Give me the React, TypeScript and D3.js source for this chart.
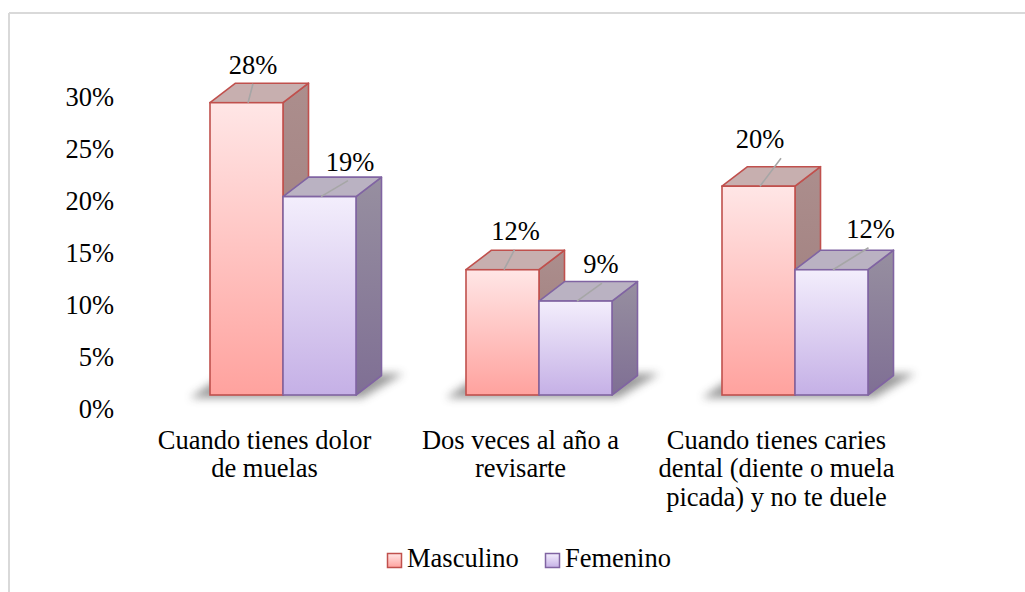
import React from "react";
import * as d3 from "d3";

const categories = [
  "Cuando tienes dolor de muelas",
  "Dos veces al año a revisarte",
  "Cuando tienes caries dental (diente o muela picada) y no te duele",
];
const categoryLines = [
  ["Cuando tienes dolor", "de muelas"],
  ["Dos veces al año a", "revisarte"],
  ["Cuando tienes caries", "dental (diente o muela", "picada) y no te duele"],
];
const seriesNames = ["Masculino", "Femenino"];
const masculino = [0.28, 0.12, 0.2];
const femenino = [0.19, 0.09, 0.12];
const yTicks = [0, 0.05, 0.1, 0.15, 0.2, 0.25, 0.3];

// label layout: [dx from front-centre, dy from top (baseline), leader end dx]
const labelLayout = [
  [
    [6.5, -29, 0],
    [13, -30, -1],
    [1.5, -38, 21],
  ],
  [
    [30.5, -26, -2],
    [25.5, -28, 1],
    [39, -32, -2],
  ],
];

const W = 1025;
const H = 592;
const FS = 26.5;
const DX = 25.5;
const DY = -19.5;

const styles = [
  {
    stroke: "#C0504D",
    frontTop: "#FFE6E6",
    frontBot: "#FFA29E",
    top: "#C7AFAF",
    sideTop: "#AC8E8D",
    sideBot: "#9C7A79",
    grad: "gm",
    sgrad: "gms",
  },
  {
    stroke: "#8064A2",
    frontTop: "#F3EEFC",
    frontBot: "#C5B0E6",
    top: "#BAB2C2",
    sideTop: "#978FA0",
    sideBot: "#7F6F94",
    grad: "gf",
    sgrad: "gfs",
  },
];

const ts: React.CSSProperties = { fontFamily: "Liberation Serif", fontSize: FS };

export default function App() {
  const x = d3.scaleBand<string>().domain(categories).range([155, 923]);
  const inner = d3.scaleBand<string>().domain(seriesNames).range([0, 146]);
  const yBar = d3.scaleLinear().domain([0, 0.3]).range([395, 81.8]);
  const yAxis = d3.scaleLinear().domain([0, 0.3]).range([418, 106]);
  const fmt = d3.format(".0%");
  const series = [masculino, femenino];
  const base = yBar(0);
  const bw = inner.bandwidth();

  return (
    <svg width={W} height={H} style={{ position: "absolute", left: 0, top: 0, background: "#fff" }}>
      <defs>
        {styles.map((s) => (
          <React.Fragment key={s.grad}>
            <linearGradient id={s.grad} x1="0" y1="0" x2="0" y2="1">
              <stop offset="0" stopColor={s.frontTop} />
              <stop offset="1" stopColor={s.frontBot} />
            </linearGradient>
            <linearGradient id={s.sgrad} x1="0" y1="0" x2="0" y2="1">
              <stop offset="0" stopColor={s.sideTop} />
              <stop offset="1" stopColor={s.sideBot} />
            </linearGradient>
          </React.Fragment>
        ))}
        <filter id="blur" x="-20%" y="-100%" width="140%" height="300%">
          <feGaussianBlur stdDeviation="4" />
        </filter>
      </defs>

      <line x1={9} y1={13} x2={W} y2={13} stroke="#D9D9D9" strokeWidth={2} />
      <line x1={9} y1={13} x2={9} y2={H} stroke="#D9D9D9" strokeWidth={2} />

      {yTicks.map((t) => (
        <text key={t} x={114} y={yAxis(t)} textAnchor="end" style={ts} fill="#000">
          {fmt(t)}
        </text>
      ))}

      {categories.map((c) => {
        const x0 = x(c)! + x.bandwidth() / 2 - bw;
        const x1 = x0 + 2 * bw;
        const pts = [
          [x0 - 20, base + 3],
          [x1 + 6, base + 3],
          [x1 + DX + 22, base + DY - 2],
          [x0 + DX - 10, base + DY - 2],
        ];
        return (
          <polygon
            key={"sh" + c}
            points={pts.map((p) => p.join(",")).join(" ")}
            fill="#4a4a4a"
            opacity={0.55}
            filter="url(#blur)"
          />
        );
      })}

      {categories.map((c, i) => (
        <g key={c}>
          {series.map((vals, si) => {
            const s = styles[si];
            const left = x(c)! + x.bandwidth() / 2 - bw + inner(seriesNames[si])!;
            const right = left + bw;
            const top = yBar(vals[i]);
            const topPts = [
              [left, top],
              [right, top],
              [right + DX, top + DY],
              [left + DX, top + DY],
            ];
            const sidePts = [
              [right, top],
              [right + DX, top + DY],
              [right + DX, base + DY],
              [right, base],
            ];
            const P = (a: number[][]) => a.map((p) => p.join(",")).join(" ");
            return (
              <g key={si}>
                <polygon points={P(sidePts)} fill={`url(#${s.sgrad})`} stroke={s.stroke} strokeWidth={1.6} strokeLinejoin="round" />
                <polygon points={P(topPts)} fill={s.top} stroke={s.stroke} strokeWidth={1.6} strokeLinejoin="round" />
                <rect x={left} y={top} width={bw} height={base - top} fill={`url(#${s.grad})`} stroke={s.stroke} strokeWidth={1.6} />
              </g>
            );
          })}
        </g>
      ))}

      {categories.map((c, i) =>
        series.map((vals, si) => {
          const left = x(c)! + x.bandwidth() / 2 - bw + inner(seriesNames[si])!;
          const fc = left + bw / 2;
          const top = yBar(vals[i]);
          const [ldx, ldy, ledx] = labelLayout[si][i];
          const lx = fc + ldx;
          const ly = top + ldy;
          return (
            <g key={`lab${i}-${si}`}>
              <line x1={fc + 1.5} y1={top} x2={lx + ledx} y2={ly + 10} stroke="#A6A6A6" strokeWidth={1.6} />
              <text x={lx} y={ly} textAnchor="middle" style={ts} fill="#000">
                {fmt(vals[i])}
              </text>
            </g>
          );
        })
      )}

      {categories.map((c, i) => (
        <text key={"cat" + i} textAnchor="middle" style={ts} fill="#000">
          {categoryLines[i].map((ln, k) => (
            <tspan key={k} x={x(c)! + x.bandwidth() / 2 - 18.5} y={449 + k * 28.3}>
              {ln}
            </tspan>
          ))}
        </text>
      ))}

      {seriesNames.map((n, si) => {
        const lx = si === 0 ? 387 : 545;
        const s = styles[si];
        return (
          <g key={n}>
            <rect x={lx + 0.5} y={553.5} width={14} height={14} fill={`url(#${s.grad})`} stroke={s.stroke} strokeWidth={1.5} />
            <text x={lx + 20} y={567} style={ts} fill="#000">
              {n}
            </text>
          </g>
        );
      })}
    </svg>
  );
}
